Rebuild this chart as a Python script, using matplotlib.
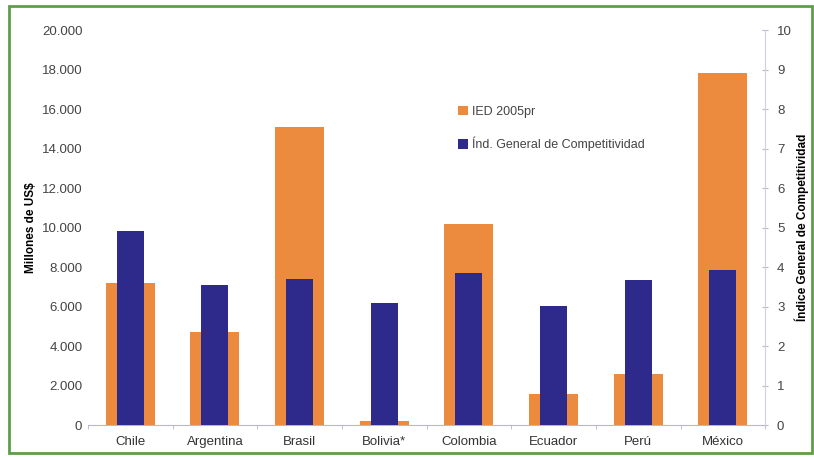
import numpy as np
import matplotlib.pyplot as plt
from matplotlib.patches import Rectangle

plt.rcParams['font.family'] = ['Liberation Sans', 'DejaVu Sans']

# Data
paises = ['Chile', 'Argentina', 'Brasil', 'Bolivia*', 'Colombia', 'Ecuador', 'Perú', 'México']
ied_2005 = [7200, 4700, 15100, 200, 10200, 1550, 2600, 17850]
indice_comp = [4.92, 3.55, 3.70, 3.08, 3.85, 3.02, 3.67, 3.92]

naranja = '#EC8A3E'
azul = '#2E2A8C'
gris = '#B8B8C8'

fig = plt.figure(figsize=(8.14, 4.58), dpi=100)
ax = fig.add_axes([0.108, 0.072, 0.832, 0.862])
ax2 = ax.twinx()

x = np.arange(len(paises))
b1 = ax.bar(x, ied_2005, width=0.58, color=naranja, label='IED 2005pr', zorder=2)
b2 = ax2.bar(x, indice_comp, width=0.32, color=azul, label='Índ. General de Competitividad', zorder=3)

ax.set_xlim(-0.5, len(paises) - 0.5)
ax.set_ylim(0, 20000)
ax2.set_ylim(0, 10)

ax.set_yticks(np.arange(0, 20001, 2000))
ax.set_yticklabels(['0'] + [f'{v:,}'.replace(',', '.') for v in range(2000, 20001, 2000)])
ax2.set_yticks(range(0, 11))

ax.set_xticks(x)
ax.set_xticklabels(paises)
ax.set_xticks(np.arange(-0.5, len(paises)), minor=True)
ax.tick_params(axis='x', which='major', length=0, pad=8, labelsize=9.5, colors='#333333')
ax.tick_params(axis='x', which='minor', length=3, color=gris)
ax.tick_params(axis='y', length=0, pad=4, labelsize=9.5, colors='#444444')
ax2.tick_params(axis='y', direction='inout', length=5, color=gris, pad=6, labelsize=9.5, colors='#444444')

for s in ['top', 'left', 'right']:
    ax.spines[s].set_visible(False)
for s in ['top', 'left', 'bottom']:
    ax2.spines[s].set_visible(False)
ax.spines['bottom'].set_color(gris)
ax2.spines['right'].set_color('#D0D0E0')

ax.set_ylabel('Millones de US$', fontsize=8.5, fontweight='bold')
ax.yaxis.set_label_coords(-0.075, 0.5)
ax2.set_ylabel('Índice General de Competitividad', fontsize=8.5, fontweight='bold')
ax2.yaxis.set_label_coords(1.043, 0.5)

ax2.legend([b1, b2], ['IED 2005pr', 'Índ. General de Competitividad'],
           loc='upper left', bbox_to_anchor=(0.53, 0.837), frameon=False,
           fontsize=9, labelspacing=1.5, handlelength=0.8, handleheight=0.8,
           handletextpad=0.3, labelcolor='#444444')

# green frame around the figure
fig.patches.append(Rectangle((0.011, 0.012), 0.986, 0.975, transform=fig.transFigure,
                             fill=False, edgecolor='#5E9E48', linewidth=2))

fig.savefig('out.png', dpi=100)
